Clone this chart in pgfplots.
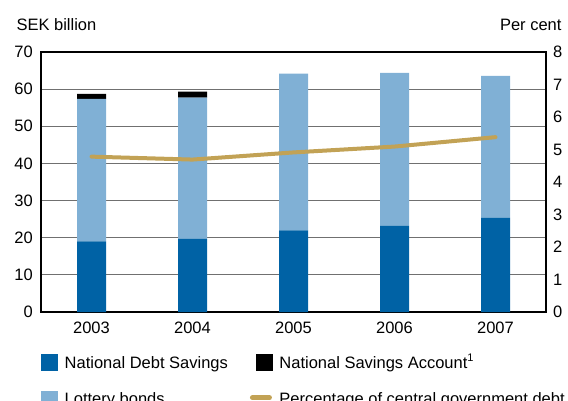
\documentclass[border=0pt]{standalone}
\usepackage{fontspec}
\setmainfont{Liberation Sans}
\usepackage{pgfplots}
\pgfplotsset{compat=1.18}

\definecolor{debtblue}{HTML}{0062A5}
\definecolor{lotteryblue}{HTML}{80B0D5}
\definecolor{pctgold}{HTML}{C2A255}
\definecolor{gridgray}{HTML}{707070}

\newcommand\chartfont{\fontsize{16.5bp}{19bp}\selectfont}

\pgfplotsset{
  base/.style={
    at={(41bp,89bp)}, anchor=south west,
    scale only axis, width=505bp, height=260bp,
    xmin=-0.5, xmax=4.5, ymin=0,
    font=\chartfont,
    major tick length=0pt, tick style={draw=none},
    /pgf/number format/assume math mode=true,
    axis line style={line width=1.2bp, black},
  },
}

\begin{document}
\begin{tikzpicture}
\useasboundingbox (0,0) rectangle (568bp,401bp);

% Savings stock, SEK billion
\begin{axis}[base, clip=false,
  ymax=70, ytick={0,10,...,70},
  ymajorgrids, grid style={gridgray, line width=1.2bp},
  xtick={0,1,2,3,4}, xticklabels={2003,2004,2005,2006,2007},
  yticklabel style={anchor=east, inner sep=0pt, xshift=-8bp},
  xticklabel style={anchor=north, inner sep=0pt, yshift=-10bp},
  ybar stacked, bar width=29bp,
  legend columns=2,
  legend style={draw=none, fill=none, inner sep=0pt, outer sep=0pt,
    at={(rel axis cs:0,0)}, anchor=north west, yshift=-40bp,
    font=\chartfont, row sep=18.5bp,
    cells={anchor=base west, inner sep=0pt},
    /tikz/every even column/.append style={column sep=20bp}},
]
\addlegendimage{legend image code/.code={\fill[debtblue] (0bp,-2bp) rectangle (16bp,14bp); \path[draw=none, fill=none] (0bp,0bp) rectangle (21.5bp,0bp);}}
\addlegendimage{legend image code/.code={\fill[black] (0bp,-2bp) rectangle (16bp,14bp); \path[draw=none, fill=none] (0bp,0bp) rectangle (21.5bp,0bp);}}
\addlegendimage{legend image code/.code={\fill[lotteryblue] (0bp,-2bp) rectangle (16bp,14bp); \path[draw=none, fill=none] (0bp,0bp) rectangle (21.5bp,0bp);}}
\addlegendimage{legend image code/.code={\draw[pctgold, line width=5bp, line cap=round] (-3.5bp,7bp) -- (13.5bp,7bp); \path[draw=none, fill=none] (0bp,0bp) rectangle (21.5bp,0bp);}}
\legend{National Debt Savings,
  National Savings Account\raisebox{7bp}{\fontsize{11bp}{11bp}\selectfont 1},
  Lottery bonds,
  Percentage of central government debt}

\addplot[fill=debtblue, draw=none, forget plot] coordinates
  {(0,19.0) (1,19.7) (2,22.0) (3,23.2) (4,25.4)};
\addplot[fill=lotteryblue, draw=none, forget plot] coordinates
  {(0,38.4) (1,38.0) (2,42.2) (3,41.2) (4,38.2)};
\addplot[fill=black, draw=none, forget plot] coordinates
  {(0,1.3) (1,1.6) (2,0) (3,0) (4,0)};

\node[anchor=base west, xshift=-28bp, yshift=21bp] at (rel axis cs:0,1) {SEK billion};
\node[anchor=base east, xshift=19bp, yshift=21bp] at (rel axis cs:1,1) {Per cent};
\end{axis}

% Share of central government debt, per cent
\begin{axis}[base,
  ymax=8, ytick={0,1,...,8},
  axis y line*=right, axis x line=none,
  yticklabel style={anchor=west, inner sep=0pt, xshift=7bp},
]
\addplot[pctgold, line width=4bp, line cap=round, line join=round] coordinates
  {(0,4.78) (1,4.69) (2,4.91) (3,5.09) (4,5.38)};
\end{axis}
\end{tikzpicture}
\end{document}
